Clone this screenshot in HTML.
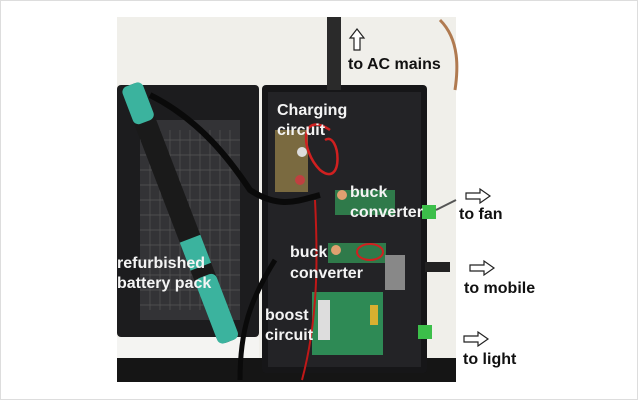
<!DOCTYPE html>
<html><head><style>
html,body{margin:0;padding:0;background:#fff;}
svg{display:block}
text{font-family:"Liberation Sans",sans-serif;font-weight:bold;font-size:16px}
.w{fill:#f4f4f4}
.b{fill:#111}
</style></head><body>
<svg width="638" height="400" viewBox="0 0 638 400">
<rect x="0.5" y="0.5" width="637" height="399" fill="#fff" stroke="#ddd"/>
<!-- photo bg -->
<rect x="117" y="17" width="339" height="365" fill="#f0efea"/>
<!-- right wire top -->
<path d="M440 20 C460 40 458 70 455 90" stroke="#b07a50" stroke-width="3" fill="none"/>
<!-- lid -->
<rect x="117" y="85" width="142" height="252" rx="4" fill="#1c1c1e"/>
<rect x="140" y="120" width="100" height="200" fill="#333336"/>
<g stroke="#555" stroke-width="0.7">
<path d="M150 130V310M160 130V310M170 130V310M180 130V310M190 130V310M200 130V310M210 130V310M220 130V310M230 130V310"/>
<path d="M140 140H240M140 155H240M140 170H240M140 185H240M140 200H240M140 215H240M140 230H240M140 245H240M140 260H240M140 275H240M140 290H240M140 305H240"/>
</g>
<rect x="117" y="337" width="142" height="21" fill="#f4f4f2"/>
<rect x="117" y="358" width="339" height="24" fill="#151515"/>
<!-- box -->
<rect x="262" y="85" width="165" height="288" rx="4" fill="#161618"/>
<rect x="268" y="92" width="153" height="275" fill="#232326"/>
<!-- cord -->
<path d="M334 17 L334 90" stroke="#2a2a2a" stroke-width="14"/>
<!-- black cable -->
<path d="M150 95 C200 120 230 160 250 190 C280 210 300 200 320 195" stroke="#0a0a0a" stroke-width="6" fill="none"/>
<path d="M275 260 C250 300 240 330 240 380" stroke="#0a0a0a" stroke-width="5" fill="none"/>
<!-- battery -->
<g transform="translate(130,85) rotate(-21)">
<rect x="-10" y="0" width="22" height="275" rx="8" fill="#1a1a1a"/>
<rect x="-10" y="0" width="22" height="40" rx="6" fill="#3bb39e"/>
<rect x="-10" y="165" width="22" height="30" fill="#3bb39e"/>
<rect x="-10" y="205" width="22" height="70" rx="6" fill="#3bb39e"/>
</g>
<!-- boards -->
<rect x="275" y="130" width="33" height="62" fill="#7a6a40"/>
<circle cx="300" cy="180" r="5" fill="#c04040"/>
<circle cx="302" cy="152" r="5" fill="#ddd"/>
<path d="M330 130 C300 110 300 150 320 170 C345 190 340 130 325 140" stroke="#d02020" stroke-width="2.5" fill="none"/>
<rect x="335" y="190" width="60" height="25" fill="#2f7a4a"/>
<circle cx="342" cy="195" r="5" fill="#e0a070"/>
<rect x="328" y="243" width="58" height="20" fill="#2f7a4a"/>
<circle cx="336" cy="250" r="5" fill="#e0a070"/>
<ellipse cx="370" cy="252" rx="13" ry="8" stroke="#d02020" stroke-width="2" fill="none"/>
<rect x="385" y="255" width="20" height="35" fill="#888"/>
<rect x="312" y="292" width="71" height="63" fill="#2e8a55"/>
<rect x="318" y="300" width="12" height="40" fill="#ddd"/>
<rect x="370" y="305" width="8" height="20" fill="#d8b030"/>
<path d="M315 200 C318 260 318 320 302 380" stroke="#c01818" stroke-width="2" fill="none"/>
<rect x="422" y="205" width="14" height="14" fill="#3cbf4a"/>
<rect x="418" y="325" width="14" height="14" fill="#3cbf4a"/>
<rect x="425" y="262" width="25" height="10" fill="#222"/>
<path d="M436 210 L456 200" stroke="#555" stroke-width="2"/>
<!-- arrows -->
<path d="M354 50 V38 H350 L357 29 L364 38 H360 V50 Z" fill="#fff" stroke="#222" stroke-width="1.2"/>
<g fill="#fff" stroke="#222" stroke-width="1.2">
<path d="M466 193 H480 V189 L490 196 L480 203 V199 H466 Z"/>
<path d="M470 265 H484 V261 L494 268 L484 275 V271 H470 Z"/>
<path d="M464 336 H478 V332 L488 339 L478 346 V342 H464 Z"/>
</g>
<!-- labels -->
<text class="b" x="348" y="69">to AC mains</text>
<text class="b" x="459" y="219">to fan</text>
<text class="b" x="464" y="293">to mobile</text>
<text class="b" x="463" y="364">to light</text>
<text class="w" x="277" y="115">Charging</text>
<text class="w" x="277" y="135">circuit</text>
<text class="w" x="350" y="197">buck</text>
<text class="w" x="350" y="217">converter</text>
<text class="w" x="290" y="257">buck</text>
<text class="w" x="290" y="278">converter</text>
<text class="w" x="117" y="268">refurbished</text>
<text class="w" x="117" y="288">battery pack</text>
<text class="w" x="265" y="320">boost</text>
<text class="w" x="265" y="340">circuit</text>
</svg>
</body></html>
